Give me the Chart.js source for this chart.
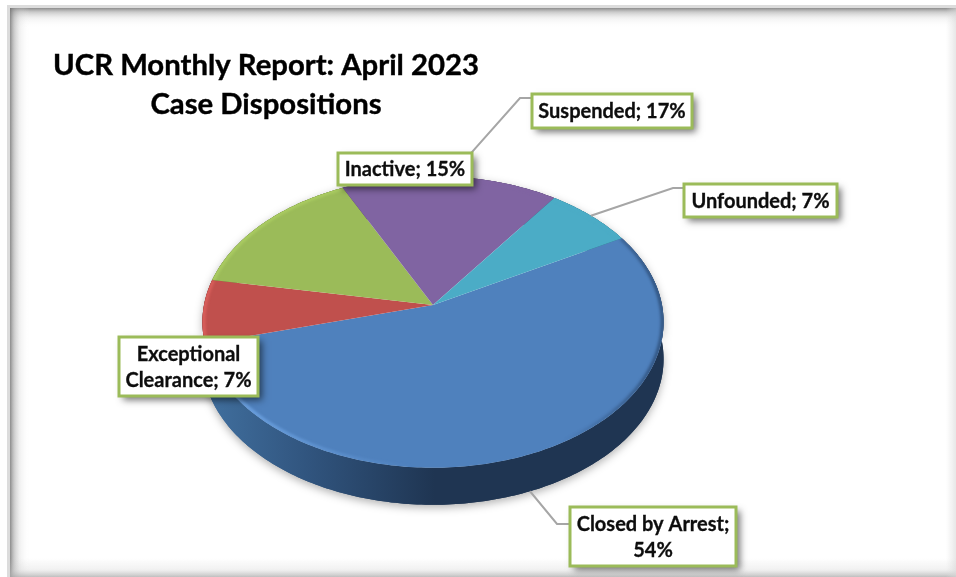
<!DOCTYPE html>
<html lang="en">

<head>
    <meta charset="UTF-8">
    <title>UCR Monthly Report: April 2023</title>
    <script src="https://cdn.jsdelivr.net/npm/chart.js@4"></script>
    <style>
        body { margin: 0; background: #fff; }
        canvas { display: block; filter: blur(0.45px); }
    </style>
</head>

<body>
    <canvas id="grafico" width="956" height="577"></canvas>
</body>

</html>

<script>
    const titleLines = ["UCR Monthly Report: April 2023", "Case Dispositions"];
    const categories = ["Closed by Arrest", "Exceptional Clearance", "Inactive", "Suspended", "Unfounded"];
    const percentages = [54, 7, 15, 17, 7];
    const sliceColors = ["#4f81bd", "#c0504d", "#9bbb59", "#8064a2", "#4bacc6"];
    const rimColors = ["#4f81bd", "#e0625e", "#aed064", "#8064a2", "#4bacc6"];
    const wallColors = ["#1f3552", "#7a2f2d", "#5f7535", "#4c3b62", "#2c6a7a"];

    // label boxes: x, y, w, h in page pixels, same order as categories
    const labelBoxes = [
        [570, 507, 166, 59],
        [119, 337, 139, 59],
        [338, 153, 134, 32],
        [532, 94, 160, 34],
        [684, 184, 153, 33]
    ];
    // where the leader line bends, null = no leader
    const leaderBends = [[557, 524], null, null, [520, 98], [673, 188]];

    // the disc is lying down: k is the perspective, tilt flattens it, depth is the wall height
    const k = 0.1165;
    const tilt = 0.628;
    const depth = 37;

    function project(el, angle, scale = 1) {
        const r = el.outerRadius * scale;
        const w = 1 - k * Math.sin(angle) * scale;
        return [el.x + r * Math.cos(angle) / w, el.y + tilt * r * Math.sin(angle) / w];
    }

    function rimPath(ctx, el, start, end, scale, dy) {
        const steps = Math.max(8, Math.ceil(Math.abs(end - start) * 60));
        for (let i = 0; i <= steps; i++) {
            const p = project(el, start + (end - start) * i / steps, scale);
            ctx.lineTo(p[0], p[1] + dy);
        }
    }

    function fadeBand(ctx, x0, y0, x1, y1, stops) {
        const g = ctx.createLinearGradient(x0, y0, x1, y1);
        stops.forEach(function (s) { g.addColorStop(s[0], s[1]); });
        return g;
    }

    function drawFrame(ctx) {
        const w = 956, h = 577;
        const inner = [
            [0, "rgba(110,110,110,.8)"],
            [0.2, "rgba(150,150,150,.5)"],
            [0.5, "rgba(200,200,200,.25)"],
            [1, "rgba(255,255,255,0)"]
        ];
        ctx.fillStyle = "#dcdcdc";
        ctx.fillRect(7, 5, w - 7, 3);
        ctx.fillRect(7, 5, 3, h - 5);

        ctx.fillStyle = fadeBand(ctx, 0, 8, 0, 28, inner);
        ctx.fillRect(10, 8, w - 10, 20);

        ctx.fillStyle = fadeBand(ctx, 10, 0, 30, 0, inner);
        ctx.fillRect(10, 8, 20, h - 8);

        ctx.fillStyle = fadeBand(ctx, 0, 558, 0, 577, [
            [0, "rgba(200,200,200,0)"],
            [0.6, "rgba(200,200,200,.25)"],
            [1, "rgba(170,170,170,.75)"]
        ]);
        ctx.fillRect(10, 558, w - 10, 19);

        ctx.fillStyle = fadeBand(ctx, 946, 0, 956, 0, [
            [0, "rgba(220,220,220,0)"],
            [1, "rgba(215,215,215,.6)"]
        ]);
        ctx.fillRect(946, 8, 10, h - 8);
    }

    function drawPie(chart) {
        const ctx = chart.ctx;
        const arcs = chart.getDatasetMeta(0).data;

        // walls first, the top faces cover the back half
        [true, false].forEach(function (comSombra) {
            arcs.forEach(function (el, i) {
                ctx.save();
                if (comSombra) {
                    ctx.shadowColor = "rgba(0,0,0,.3)";
                    ctx.shadowBlur = 8;
                    ctx.shadowOffsetY = 3;
                }
                ctx.fillStyle = fadeBand(ctx, 205, 0, 664, 0, [
                    [0, i == 0 ? "#41709f" : wallColors[i]],
                    [0.22, i == 0 ? "#31557f" : wallColors[i]],
                    [0.5, wallColors[i]],
                    [1, wallColors[i]]
                ]);
                ctx.beginPath();
                rimPath(ctx, el, el.startAngle, el.endAngle, 1, 0);
                rimPath(ctx, el, el.endAngle, el.startAngle, 1, depth);
                ctx.closePath();
                ctx.fill();
                ctx.restore();
            });
        });

        arcs.forEach(function (el, i) {
            ctx.beginPath();
            ctx.moveTo(el.x, el.y);
            rimPath(ctx, el, el.startAngle, el.endAngle, 1, 0);
            ctx.closePath();
            ctx.fillStyle = sliceColors[i];
            ctx.fill();
        });

        // bevel along the edge of the top face
        arcs.forEach(function (el, i) {
            ctx.save();
            ctx.beginPath();
            ctx.moveTo(el.x, el.y);
            rimPath(ctx, el, el.startAngle, el.endAngle, 1, 0);
            ctx.closePath();
            ctx.clip();
            ctx.filter = "blur(1.5px)";
            ctx.lineWidth = 3;
            ctx.beginPath();
            rimPath(ctx, el, el.startAngle, el.endAngle, 0.995, 0);
            if (i == 0) {
                ctx.strokeStyle = fadeBand(ctx, 205, 0, 664, 0, [
                    [0, "rgba(120,175,240,0)"],
                    [0.08, "rgba(120,175,240,.85)"],
                    [0.28, "rgba(120,175,240,.4)"],
                    [0.45, "rgba(120,175,240,0)"],
                    [0.78, "rgba(20,40,70,0)"],
                    [0.98, "rgba(20,40,70,.6)"]
                ]);
            } else {
                ctx.strokeStyle = rimColors[i];
            }
            ctx.stroke();
            ctx.restore();
        });
    }

    function wrapLabel(ctx, text, maxWidth) {
        const lines = [];
        let line = "";
        text.split(" ").forEach(function (word) {
            const test = line ? line + " " + word : word;
            if (line && ctx.measureText(test).width > maxWidth) {
                lines.push(line);
                line = word;
            } else {
                line = test;
            }
        });
        lines.push(line);
        return lines;
    }

    // Lato bold is a bit thin next to the original, a hairline stroke thickens it
    function boldText(ctx, text, x, y, weight) {
        ctx.lineWidth = weight;
        ctx.strokeStyle = ctx.fillStyle;
        ctx.strokeText(text, x, y);
        ctx.fillText(text, x, y);
    }

    function drawLabels(chart) {
        const ctx = chart.ctx;
        const arcs = chart.getDatasetMeta(0).data;

        // leaders go under the boxes
        arcs.forEach(function (el, i) {
            if (!leaderBends[i]) return;
            const mid = (el.startAngle + el.endAngle) / 2;
            const p = project(el, mid);
            const front = Math.sin(mid) > 0;
            const box = labelBoxes[i];
            ctx.beginPath();
            ctx.moveTo(p[0], p[1] + (front ? depth : 0));
            ctx.lineTo(leaderBends[i][0], leaderBends[i][1]);
            ctx.lineTo(box[0], leaderBends[i][1]);
            ctx.strokeStyle = "#a6a6a6";
            ctx.lineWidth = 2;
            ctx.stroke();
        });

        ctx.font = "bold 20px Lato";
        ctx.textAlign = "center";
        ctx.textBaseline = "middle";
        arcs.forEach(function (el, i) {
            const box = labelBoxes[i];
            ctx.save();
            ctx.shadowColor = "rgba(0,0,0,.55)";
            ctx.shadowBlur = 7;
            ctx.shadowOffsetX = 4;
            ctx.shadowOffsetY = 4;
            ctx.fillStyle = "#fff";
            ctx.fillRect(box[0], box[1], box[2], box[3]);
            ctx.restore();
            ctx.strokeStyle = "#9bbb59";
            ctx.lineWidth = 3;
            ctx.strokeRect(box[0], box[1], box[2], box[3]);

            const lines = wrapLabel(ctx, `${categories[i]}; ${percentages[i]}%`, box[2] - 4);
            ctx.fillStyle = "#0d0d0d";
            lines.forEach(function (line, n) {
                boldText(ctx, line, box[0] + box[2] / 2, box[1] + box[3] / 2 + 1 + (n - (lines.length - 1) / 2) * 26, 0.3);
            });
        });

        ctx.font = "bold 29.3px Lato";
        ctx.fillStyle = "#000";
        titleLines.forEach(function (line, n) {
            boldText(ctx, line, 266, 66 + n * 39, 0.4);
        });
    }

    const tiltedPie = {
        id: "tiltedPie",
        beforeDraw: function (chart) { drawFrame(chart.ctx); },
        beforeDatasetsDraw: function (chart) {
            drawPie(chart);
            return false;
        },
        afterDraw: function (chart) { drawLabels(chart); }
    };

    document.fonts.load("bold 20px Lato").finally(function () {
        new Chart(document.getElementById("grafico"), {
            type: "pie",
            data: {
                labels: categories,
                datasets: [{ data: percentages, backgroundColor: sliceColors, borderWidth: 0 }]
            },
            options: {
                responsive: false,
                animation: false,
                rotation: 60.6,
                layout: { padding: { left: 204, right: 294, top: 76, bottom: 43 } },
                plugins: { legend: { display: false }, tooltip: { enabled: false } }
            },
            plugins: [tiltedPie]
        });
    });
</script>
